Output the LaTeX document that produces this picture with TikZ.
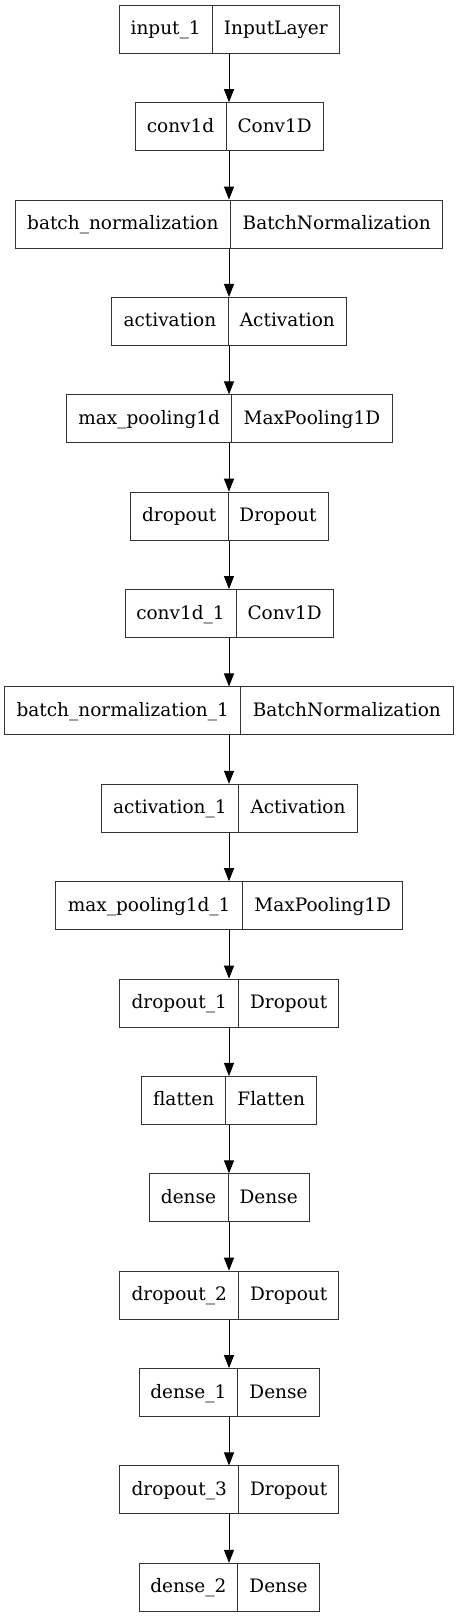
\documentclass[tikz,border=0pt]{standalone}
\usepackage{fontspec}
\setmainfont{DejaVu Serif}
\usetikzlibrary{arrows.meta}
\tikzset{
  part/.style={draw=black!80, line width=0.9pt, inner sep=0pt, minimum height=48pt,
    text height=15pt, text depth=4pt, font=\fontsize{18.5}{22}\selectfont},
  link/.style={draw=black, line width=0.9pt, -{Triangle[length=13pt,width=10pt]}}
}
\begin{document}
\begin{tikzpicture}[x=1pt,y=-1pt]
\useasboundingbox (0,0) rectangle (459,1617);
\coordinate (axis) at (229,0);
\foreach \xl/\xd/\xr/\lname/\ltype [count=\i] in {
    119/212.3/339.3/input\_1/InputLayer,
    135/226/323.3/conv1d/Conv1D,
    15/230.7/442.7/batch\_normalization/BatchNormalization,
    111.7/228/346.7/activation/Activation,
    66.7/231.7/392/max\_pooling1d/MaxPooling1D,
    130.3/228/328/dropout/Dropout,
    125/236/333.3/conv1d\_1/Conv1D,
    4.7/240.7/453/batch\_normalization\_1/BatchNormalization,
    101/238.7/357.3/activation\_1/Activation,
    55.7/242.7/402.7/max\_pooling1d\_1/MaxPooling1D,
    119.7/238.7/338.7/dropout\_1/Dropout,
    141.7/225.7/316.7/flatten/Flatten,
    149/228/309.3/dense/Dense,
    119.7/238.7/338.7/dropout\_2/Dropout,
    139/237.7/319.3/dense\_1/Dense,
    119.7/238.7/338.7/dropout\_3/Dropout,
    139/237.7/319.3/dense\_2/Dense} {
  \pgfmathsetmacro\yc{29.3+97.375*(\i-1)}
  \pgfmathsetmacro\wl{\xd-\xl}
  \pgfmathsetmacro\wr{\xr-\xd}
  % name part and class part of one layer
  \node[part, minimum width=\wl pt] (n\i) at ({(\xl+\xd)/2},\yc) {\lname};
  \node[part, minimum width=\wr pt] (c\i) at ({(\xd+\xr)/2},\yc) {\ltype};
  \ifnum\i>1
    \pgfmathtruncatemacro\j{\i-1}
    \draw[link] (n\j.south -| axis) -- (n\i.north -| axis);
  \fi
}
\end{tikzpicture}
\end{document}
